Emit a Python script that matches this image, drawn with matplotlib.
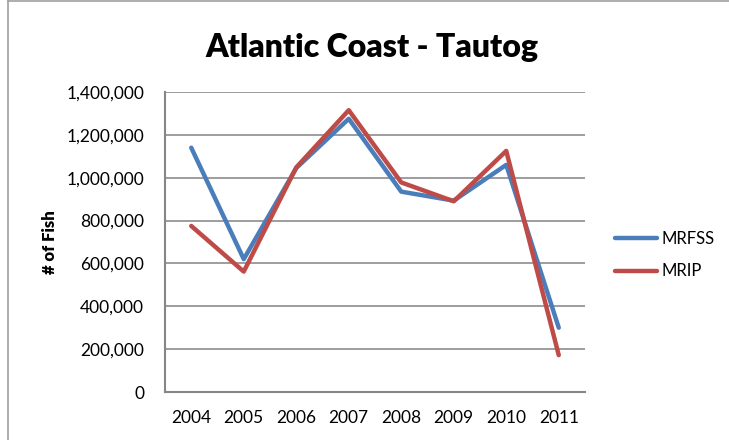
import matplotlib.pyplot as plt
from matplotlib.lines import Line2D
from matplotlib.ticker import FuncFormatter

# dados
anos = ['2004', '2005', '2006', '2007', '2008', '2009', '2010', '2011']
mrfss = [1140000, 620000, 1045000, 1275000, 935000, 893000, 1060000, 300000]
mrip = [775000, 562000, 1048000, 1315000, 978000, 890000, 1125000, 172000]

plt.rcParams['font.family'] = ['Lato', 'DejaVu Sans']

fig = plt.figure(figsize=(7.29, 4.40), dpi=100)
ax = fig.add_axes([165 / 729, 48 / 440, 420 / 729, 300 / 440])

x = range(len(anos))
ax.plot(x, mrfss, color='#4a7ebb', lw=3.2, label='MRFSS', solid_capstyle='round')
ax.plot(x, mrip, color='#be4b48', lw=3.2, label='MRIP', solid_capstyle='round')

ax.set_xlim(-0.5, len(anos) - 0.5)
ax.set_ylim(0, 1400000)
ax.set_yticks(range(0, 1400001, 200000))
ax.yaxis.set_major_formatter(FuncFormatter(lambda v, p: f'{int(v):,}'))
ax.set_xticks(list(x))
ax.set_xticklabels(anos)
ax.tick_params(axis='both', length=0, labelsize=12.5, pad=13)
ax.tick_params(axis='y', pad=15)

ax.grid(axis='y', color='#8c8c8c', lw=1.2)
ax.set_axisbelow(True)
for s in ['top', 'right']:
    ax.spines[s].set_visible(False)
for s in ['left', 'bottom']:
    ax.spines[s].set_color('#868686')
    ax.spines[s].set_linewidth(1.5)

ax.set_ylabel('# of Fish', fontsize=12, fontweight='heavy', labelpad=6)
fig.text(372 / 729, 1 - 48 / 440, 'Atlantic Coast - Tautog', fontsize=23,
         fontweight='heavy', ha='center', va='center')

leg = fig.legend(loc='center left', bbox_to_anchor=(600 / 729, 1 - 255 / 440),
                 frameon=False, fontsize=12, handlelength=2.5, handletextpad=0.3,
                 labelspacing=1.0)

# moldura do gráfico
fig.add_artist(Line2D([8 / 729, 8 / 729], [0, 1 - 1 / 440], color='#a0a0a0', lw=1.2,
                      transform=fig.transFigure))
fig.add_artist(Line2D([8 / 729, 1], [1 - 1 / 440, 1 - 1 / 440], color='#a0a0a0', lw=1.2,
                      transform=fig.transFigure))

fig.savefig('out.png', dpi=100)
